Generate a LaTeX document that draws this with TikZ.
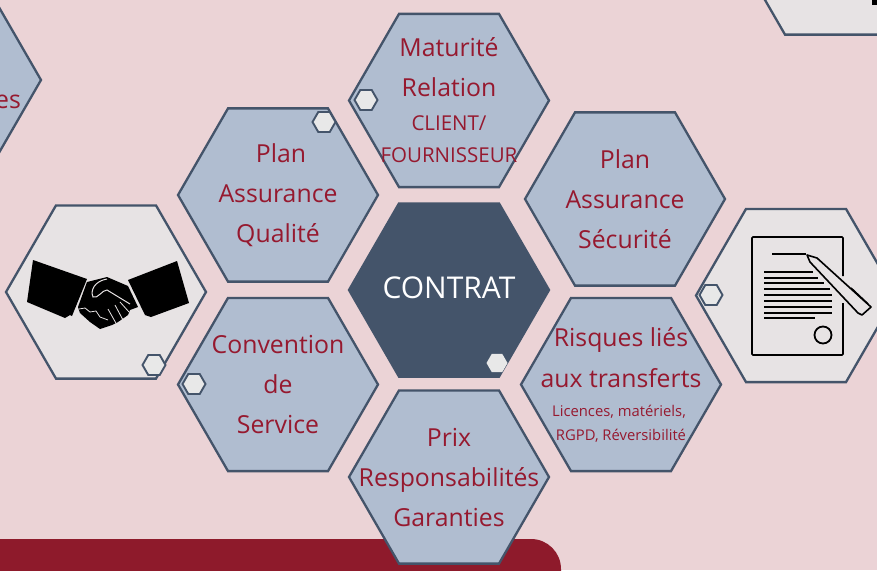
\documentclass[tikz,border=0pt]{standalone}
\usepackage{xcolor}
\usepackage{fontspec}
\setmainfont{Open Sans}
\usetikzlibrary {shapes.geometric}

\definecolor{bgpink}{HTML}{EBD3D6}
\definecolor{hexblue}{HTML}{B0BDD0}
\definecolor{hexdark}{HTML}{44546A}
\definecolor{hexlight}{HTML}{E7E3E4}
\definecolor{smallhex}{HTML}{E8E8E8}
\definecolor{wine}{HTML}{8E1A2B}
\definecolor{txtred}{HTML}{96192F}

\tikzset{
  bighex/.style={regular polygon, regular polygon sides=6, minimum size=200pt, inner sep=0pt,
    draw=hexdark, line width=2.3pt, fill=hexblue},
  darkhex/.style={bighex, fill=hexdark},
  iconhex/.style={bighex, fill=hexlight},
  tinyhex/.style={regular polygon, regular polygon sides=6, minimum size=23pt, inner sep=0pt,
    draw=hexdark, line width=1.9pt, fill=smallhex},
  hextext/.style={align=center, text=txtred, font=\fontsize{24.8}{40}\selectfont, inner sep=0pt},
  smalltext/.style={hextext, font=\fontsize{20.5}{24}\selectfont},
  tinytext/.style={hextext, font=\fontsize{14.8}{18}\selectfont},
  penline/.style={line width=1.6pt, black, line join=round},
  docline/.style={line width=1.7pt, black},
}

\begin{document}
\begin{tikzpicture}[x=1pt,y=-1pt]
\clip (0,0) rectangle (877,570);
\fill [bgpink] (0,0) rectangle (877,570);

% bar at the bottom
\fill [wine, rounded corners=30pt] (-50,620) -- (-50,539) -- (561,539) -- (561,620) -- cycle;

% hexagons
\node (ressources) at (-59,80) [bighex] {};
\node (maturite) at (449,100.5) [bighex] {};
\node (qualite) at (278,195) [bighex] {};
\node (securite) at (625,199) [bighex] {};
\node (contrat) at (449,290) [darkhex] {};
\node (convention) at (278,384.5) [bighex] {};
\node (risques) at (621,384.5) [bighex] {};
\node (prix) at (449,477) [bighex] {};
\node (accord) at (106,292) [iconhex] {};
\node (signature) at (796,295.5) [iconhex] {};
\node (coin) at (835,-52) [iconhex] {};

% texts
\node at (8,102) [hextext] {es};
\node at (449,47) [hextext] {Maturité};
\node at (449,87) [hextext] {Relation};
\node at (449,123) [smalltext] {CLIENT/};
\node at (449,155) [smalltext] {FOURNISSEUR};
\node at (278,195.5) [hextext] {\hspace*{6pt}Plan\\Assurance\\Qualité};
\node at (625,199) [hextext] {Plan\\Assurance\\Sécurité};
\node at (449,288) [hextext, text=white, font=\fontsize{30}{34}\selectfont] {CONTRAT};
\node at (278,385) [hextext] {Convention\\de\\Service};
\node at (621,340) [hextext] {Risques liés};
\node at (621,378) [hextext] {aux transferts};
\node at (619,412) [tinytext] {Licences, matériels,};
\node at (621,436) [tinytext] {RGPD, Réversibilité};
\node at (449,477.5) [hextext] {Prix\\Responsabilités\\Garanties};

% small hexagons
\node (tinyA) at (366,100) [tinyhex] {};
\node (tinyB) at (324,122) [tinyhex] {};
\node (tinyC) at (194,384) [tinyhex] {};
\node (tinyD) at (154,365) [tinyhex] {};
\node (tinyE) at (711,295) [tinyhex] {};
\node (tinyF) at (497,363) [tinyhex, draw=none, minimum size=21pt] {};

% handshake
\fill [black] (33,260) -- (87,279) -- (72,316) -- (70,315) -- (65,318) -- (27,302) -- cycle;
\fill [black] (177,261) -- (189,303) -- (151,317) -- (145,315) -- (128,280) -- cycle;
\fill [black] (87,282) -- (107,277) -- (128,286) -- (138,307) -- (130,310) -- (128,315)
  -- (118,322) -- (112,325) -- (100,329) -- (90,322) -- (80,313) -- (78,307) -- cycle;
\draw [hexlight, line width=1pt] (107,279) .. controls (95,281) and (90,290) .. (93,297)
  .. controls (98,299) and (102,290) .. (107,290) -- (130,304);
\draw [hexlight, line width=0.8pt] (79,309) -- (85,308) -- (90,312) -- (96,311) -- (100,317) -- (108,320);
\draw [hexlight, line width=0.8pt] (108,309) -- (117,325);
\draw [hexlight, line width=0.8pt] (115,305) -- (123,320);
\draw [hexlight, line width=0.8pt] (120,302) -- (129,312);

% document
\draw [docline, rounded corners=1pt] (843,276) -- (843,237) -- (752,237) -- (752,355) -- (843,355) -- (843,303);
\draw [docline] (772,254) -- (806,254);
\foreach \y/\xend in {272/813,278/818,283/824,289/830,295/832,301/832,307/832,313/832,318/815}
  \draw [docline] (764,\y) -- (\xend,\y);
\draw [line width=1.8pt] (823,335) circle (8.5pt);
% pen
\draw [penline, fill=hexlight] (807,255) -- (817,258) -- (871,307) -- (862,315) -- (858,313) -- (810,262) -- cycle;
\draw [penline] (851,288) -- (868,304);

% black corner
\fill [black] (872,-5) rectangle (880,5);
\end{tikzpicture}
\end{document}
